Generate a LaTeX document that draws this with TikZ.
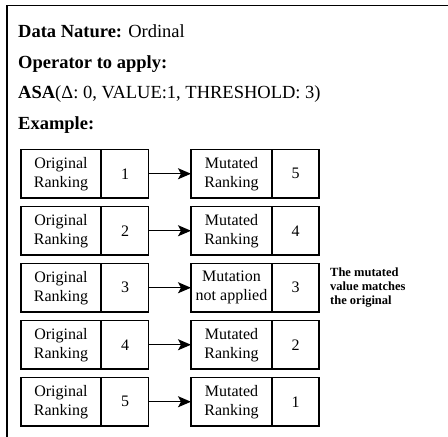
\documentclass[tikz,border=0pt]{standalone}
\usepackage{fontspec}
\setmainfont{Liberation Serif}
\usetikzlibrary{arrows.meta}
\tikzset{
  pair/.style={draw, line width=1.4pt, inner sep=0pt, outer sep=0pt, minimum height=48.5pt,
    anchor=west},
  lbl/.style={inner sep=0pt, align=center, font=\fontsize{16}{19}\selectfont},
  sep/.style={line width=1.4pt},
  head/.style={anchor=base west, inner sep=0pt, font=\fontsize{18.5}{22}\selectfont},
  conn/.style={line width=1.4pt, -{Stealth[length=13pt,width=11pt,inset=3pt]}},
  note/.style={anchor=west, inner sep=0pt, align=left, font=\bfseries\fontsize{12.5}{14}\selectfont}
}
\begin{document}
\begin{tikzpicture}[x=1pt,y=-1pt]
\useasboundingbox (0,0) rectangle (448,437);
\draw[line width=1.5pt] (448,5.5) -- (7,5.5) -- (7,437);
\node[head] (t1) at (18,37) {\textbf{Data Nature:} Ordinal};
\node[head] (t2) at (18,68) {\textbf{Operator to apply:}};
\node[head] (t3) at (18,98.5) {\textbf{ASA}(Δ: 0, VALUE:1, THRESHOLD: 3)};
\node[head] (t4) at (18,129) {\textbf{Example:}};
\foreach \i/\a/\b/\c in {0/1/5/Mutated\\Ranking, 1/2/4/Mutated\\Ranking, 2/3/3/Mutation\\not applied, 3/4/2/Mutated\\Ranking, 4/5/1/Mutated\\Ranking}{
  \pgfmathsetmacro{\yy}{173.75+57*\i}
  \node[pair, minimum width=127.5pt] (o\i) at (21,\yy) {};
  \node[pair, minimum width=128pt] (m\i) at (191,\yy) {};
  \draw[sep] ([xshift=80pt]o\i.north west) -- ([xshift=80pt]o\i.south west);
  \draw[sep] ([xshift=81pt]m\i.north west) -- ([xshift=81pt]m\i.south west);
  \node[lbl] (ot\i) at (61,\yy) {Original\\Ranking};
  \node[lbl] (ov\i) at (125,\yy) {\a};
  \node[lbl] (mt\i) at (231.5,\yy) {\c};
  \node[lbl] (mv\i) at (295.5,\yy) {\b};
  \draw[conn] (o\i.east) -- (m\i.west);
}
\node[note] (n) at (330,287.5) {The mutated\\value matches\\the original};
\end{tikzpicture}
\end{document}
